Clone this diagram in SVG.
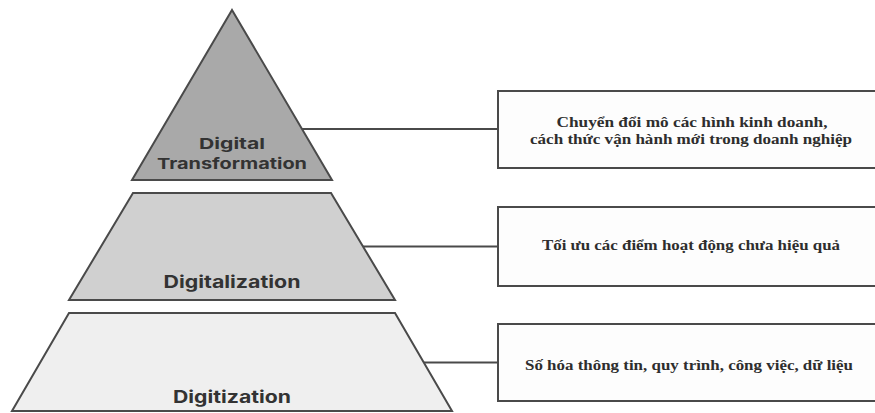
<svg xmlns="http://www.w3.org/2000/svg" width="875" height="413" viewBox="0 0 875 413">
<style>
.tier{stroke:#4a4a4a;stroke-width:2;stroke-linejoin:miter}
.lbl{font-family:"Inter","DejaVu Sans",sans-serif;font-weight:700;font-size:17px;fill:#333;text-anchor:middle}
.lbl2{font-size:15px}
.box{fill:#fdfdfd;stroke:#4a4a4a;stroke-width:2}
.desc{font-family:"Liberation Serif","DejaVu Serif",serif;font-weight:700;font-size:15px;fill:#2e2e2e;text-anchor:middle}
.conn{stroke:#4a4a4a;stroke-width:2;fill:none}
</style>
<rect width="875" height="413" fill="#ffffff"/>
<g id="connectors">
<line class="conn" x1="302" y1="129" x2="498" y2="129"/>
<line class="conn" x1="362" y1="246.5" x2="498" y2="246.5"/>
<line class="conn" x1="423" y1="362.5" x2="498" y2="362.5"/>
</g>
<g id="tier-top">
<polygon class="tier" fill="#a9a9a9" points="232,10 332,180 132,180"/>
<text class="lbl lbl2" x="232" y="149" textLength="66" lengthAdjust="spacingAndGlyphs">Digital</text>
<text class="lbl lbl2" x="232" y="168.5" textLength="150" lengthAdjust="spacingAndGlyphs">Transformation</text>
</g>
<g id="tier-middle">
<polygon class="tier" fill="#d0d0d0" points="133,193 331,193 395,300 69,300"/>
<text class="lbl" x="232" y="288" textLength="137" lengthAdjust="spacingAndGlyphs">Digitalization</text>
</g>
<g id="tier-bottom">
<polygon class="tier" fill="#efefef" points="69,313 395,313 452,411 12,411"/>
<text class="lbl" x="232" y="403" textLength="118" lengthAdjust="spacingAndGlyphs">Digitization</text>
</g>
<g id="box-top">
<rect class="box" x="498" y="91" width="380" height="77"/>
<text class="desc" x="692" y="127" textLength="271" lengthAdjust="spacingAndGlyphs">Chuyển đổi mô các hình kinh doanh,</text>
<text class="desc" x="691" y="144" textLength="322" lengthAdjust="spacingAndGlyphs">cách thức vận hành mới trong doanh nghiệp</text>
</g>
<g id="box-middle">
<rect class="box" x="498" y="207" width="380" height="79"/>
<text class="desc" x="691" y="250" textLength="298" lengthAdjust="spacingAndGlyphs">Tối ưu các điểm hoạt động chưa hiệu quả</text>
</g>
<g id="box-bottom">
<rect class="box" x="498" y="324" width="380" height="77"/>
<text class="desc" x="689" y="370" textLength="328" lengthAdjust="spacingAndGlyphs">Số hóa thông tin, quy trình, công việc, dữ liệu</text>
</g>
</svg>
